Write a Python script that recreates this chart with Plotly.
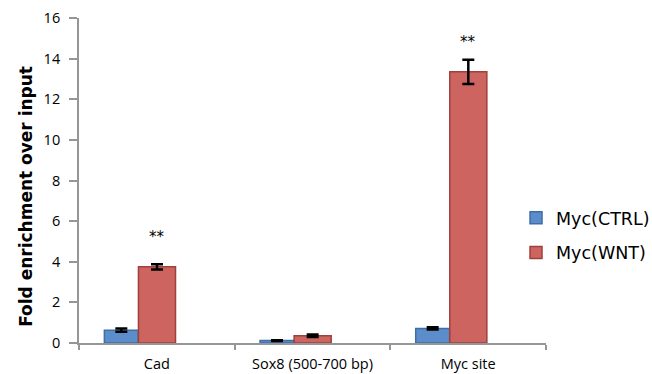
import plotly.graph_objects as go

# ChIP-qPCR enrichment of Myc at three loci
categories = ["Cad", "Sox8 (500-700 bp)", "Myc site"]
ctrl_values = [0.63, 0.12, 0.72]
ctrl_errors = [0.08, 0.02, 0.05]
wnt_values = [3.75, 0.36, 13.35]
wnt_errors = [0.13, 0.06, 0.6]
significance = ["**", "", "**"]
y_ticks = [0, 2, 4, 6, 8, 10, 12, 14, 16]
y_title = "Fold enrichment over input"

AXIS_GREY = "#969696"
TICK_FONT = dict(family="Open Sans, sans-serif", size=14.5, color="#000000")

fig = go.Figure()

fig.add_trace(go.Bar(
    name="Myc(CTRL)",
    x=categories,
    y=ctrl_values,
    width=0.218,
    offset=-0.337,
    marker=dict(color="#5a8dca", line=dict(color="#3e6ea6", width=1.5)),
    error_y=dict(type="data", array=ctrl_errors, visible=True,
                 color="#000000", thickness=2.5, width=6),
    legendgroup="ctrl",
))

fig.add_trace(go.Bar(
    name="Myc(WNT)",
    x=categories,
    y=wnt_values,
    width=0.238,
    offset=-0.118,
    marker=dict(color="#cd6460", line=dict(color="#a0403c", width=1.5)),
    error_y=dict(type="data", array=wnt_errors, visible=True,
                 color="#000000", thickness=2.5, width=6),
    legendgroup="wnt",
))

# significance stars above the WNT bars
star_heights = {"Cad": 5.23, "Myc site": 14.8}
for cat, mark in zip(categories, significance):
    if mark:
        fig.add_annotation(
            x=categories.index(cat) + 0.001, y=star_heights[cat],
            xref="x", yref="y", text=mark, showarrow=False,
            font=dict(family="DejaVu Sans, sans-serif", size=15, color="#000000"),
        )

# vertical y-axis title, sitting a little below the plot's middle
fig.add_annotation(
    x=-0.114, y=0.452, xref="paper", yref="paper",
    text=f"<b>{y_title}</b>", textangle=-90, showarrow=False,
    xanchor="center", yanchor="middle",
    font=dict(family="DejaVu Sans, sans-serif", size=17, color="#000000"),
)

fig.update_layout(
    width=652,
    height=374,
    margin=dict(l=79, r=106, t=18, b=31, autoexpand=False),
    paper_bgcolor="#ffffff",
    plot_bgcolor="#ffffff",
    showlegend=True,
    legend=dict(
        x=0.9358, xanchor="left", y=0.331, yanchor="middle",
        font=dict(family="DejaVu Sans, Verdana, sans-serif", size=17.5, color="#000000"),
        tracegroupgap=9,
        itemwidth=30,
        bgcolor="rgba(0,0,0,0)",
    ),
    xaxis=dict(
        type="category",
        range=[-0.5, 2.5],
        automargin=False,
        showline=True, linecolor=AXIS_GREY, linewidth=1.8,
        ticks="outside", tickson="boundaries", ticklen=5, tickcolor=AXIS_GREY, tickwidth=1.8,
        tickfont=TICK_FONT, ticklabelstandoff=7,
        showgrid=False, zeroline=False,
    ),
    yaxis=dict(
        range=[0, 16],
        tickvals=y_ticks,
        automargin=False,
        showline=True, linecolor=AXIS_GREY, linewidth=1.8,
        ticks="outside", ticklen=8, tickcolor=AXIS_GREY, tickwidth=1.8,
        tickfont=TICK_FONT, ticklabelstandoff=6,
        showgrid=False, zeroline=False,
    ),
)

fig.write_html("out.html")
